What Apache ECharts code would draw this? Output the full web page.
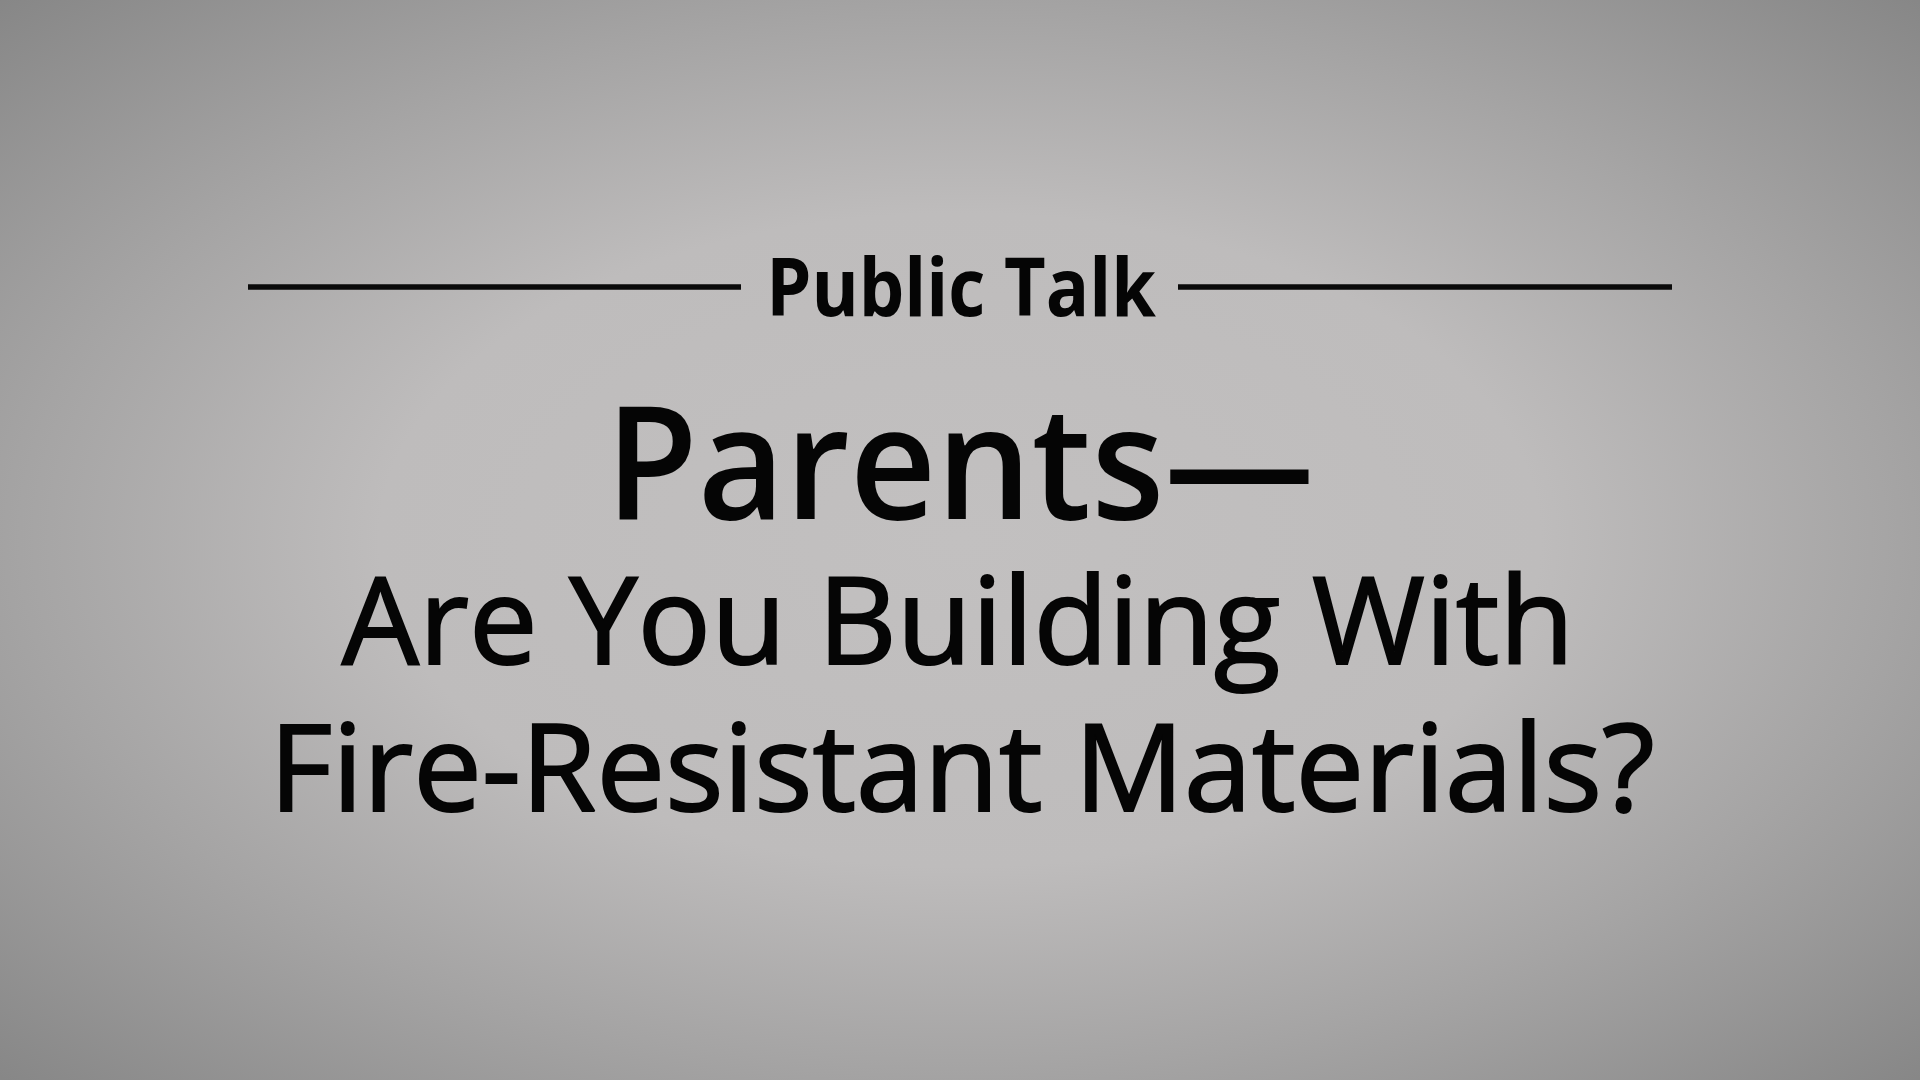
<!DOCTYPE html>
<html>
<head>
<meta charset="utf-8">
<style>
html,body{margin:0;padding:0;width:1920px;height:1080px;overflow:hidden;background:#bdbbbb;}
#chart{width:1920px;height:1080px;}
</style>
<script src="https://cdn.jsdelivr.net/npm/echarts@6/dist/echarts.min.js"></script>
</head>
<body>
<div id="chart"></div>
<script>
var kickerText = 'Public Talk';
var titleLines = ['Parents\u2014', 'Are You Building With', 'Fire-Resistant Materials?'];

var chart = echarts.init(document.getElementById('chart'), null, {renderer: 'canvas'});
var W = 1920, H = 1080;
var elements = [];

// vignette background: circular gradient on a square, squashed to an ellipse
elements.push({
  type: 'rect', z: 0, silent: true,
  x: 0, y: 0, scaleY: H / W,
  shape: {x: 0, y: 0, width: W, height: W},
  style: {
    fill: {
      type: 'radial', x: 0.5, y: 0.5, r: 0.72,
      colorStops: [
        {offset: 0, color: '#c2c0c0'},
        {offset: 0.42, color: '#bebcbc'},
        {offset: 0.68, color: '#a5a4a4'},
        {offset: 1, color: '#858585'}
      ]
    }
  }
});

// rules either side of the kicker
elements.push({type: 'line', z: 5, shape: {x1: 248, y1: 287, x2: 741, y2: 287}, style: {stroke: '#0a0a0a', lineWidth: 5.5}});
elements.push({type: 'line', z: 5, shape: {x1: 1178, y1: 287, x2: 1672, y2: 287}, style: {stroke: '#0a0a0a', lineWidth: 5.5}});

elements.push({
  type: 'text', z: 6, x: 961, y: 292.8, scaleX: 0.9,
  style: {text: kickerText, fill: '#050505', font: 'bold 80px "Open Sans"', textAlign: 'center', textVerticalAlign: 'middle'}
});

var lineCfg = [
  {x: 960, y: 474.3, size: 157, weight: 600, sx: 0.957, sw: 0},
  {x: 958, y: 629.7, size: 121, weight: 400, sx: 1.01, sw: 2},
  {x: 962, y: 776.7, size: 121, weight: 400, sx: 1.01, sw: 2}
];
titleLines.forEach(function (t, i) {
  var c = lineCfg[i];
  var st = {text: t, fill: '#050505', font: c.weight + ' ' + c.size + 'px "Open Sans"', textAlign: 'center', textVerticalAlign: 'middle'};
  if (c.sw) { st.stroke = '#050505'; st.lineWidth = c.sw; }
  elements.push({type: 'text', z: 6, x: c.x, y: c.y, scaleX: c.sx, style: st});
});

chart.setOption({
  backgroundColor: '#bdbbbb',
  animation: false,
  graphic: {elements: elements}
});
</script>
</body>
</html>
